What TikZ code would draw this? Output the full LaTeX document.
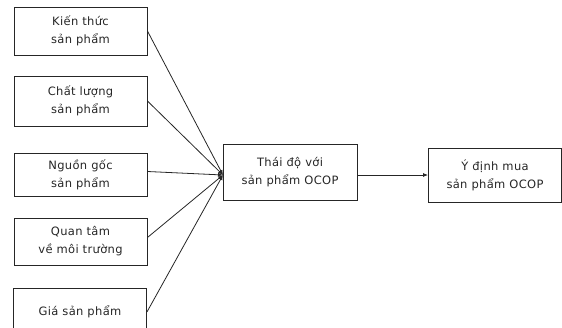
\documentclass[tikz,border=0pt]{standalone}
\usepackage{fontspec}
\setmainfont[LetterSpace=3]{DejaVu Sans}
\usetikzlibrary{arrows.meta}
\begin{document}
\begin{tikzpicture}[x=1pt,y=-1pt,
  box/.style={draw=black!85, line width=0.9pt, minimum width=133pt, minimum height=48pt, inner sep=0pt, align=center,
    font=\fontsize{11.5}{18}\selectfont, text=black!85},
  conn/.style={draw=black!85, line width=0.8pt, -{Latex[length=5pt,width=4pt]}}]
\useasboundingbox (0,0) rectangle (562,327);
\node[box] (k) at (80.5,31) {Kiến thức\\sản phẩm};
\node[box, minimum height=50pt] (c) at (80.5,101) {Chất lượng\\sản phẩm};
\node[box, minimum height=43pt] (n) at (80.5,174.5) {Nguồn gốc\\sản phẩm};
\node[box, minimum height=47pt] (q) at (80.5,241.5) {Quan tâm\\về môi trường};
\node[box] (g) at (80,312) {Giá sản phẩm};
\node[box, minimum width=134pt, minimum height=56pt] (t) at (290,172) {Thái độ với\\sản phẩm OCOP};
\node[box, minimum width=133pt, minimum height=54pt] (y) at (495,175) {Ý định mua\\sản phẩm OCOP};
\coordinate (m) at (223,175);
\draw[conn] (k.east) -- (m);
\draw[conn] (c.east) -- (m);
\draw[conn] ([yshift=3pt]n.east) -- (m);
\draw[conn] ([yshift=4pt]q.east) -- (m);
\draw[conn] (g.east) -- (m);
\draw[conn] (t.east |- m) -- (y.west |- m);
\end{tikzpicture}
\end{document}
